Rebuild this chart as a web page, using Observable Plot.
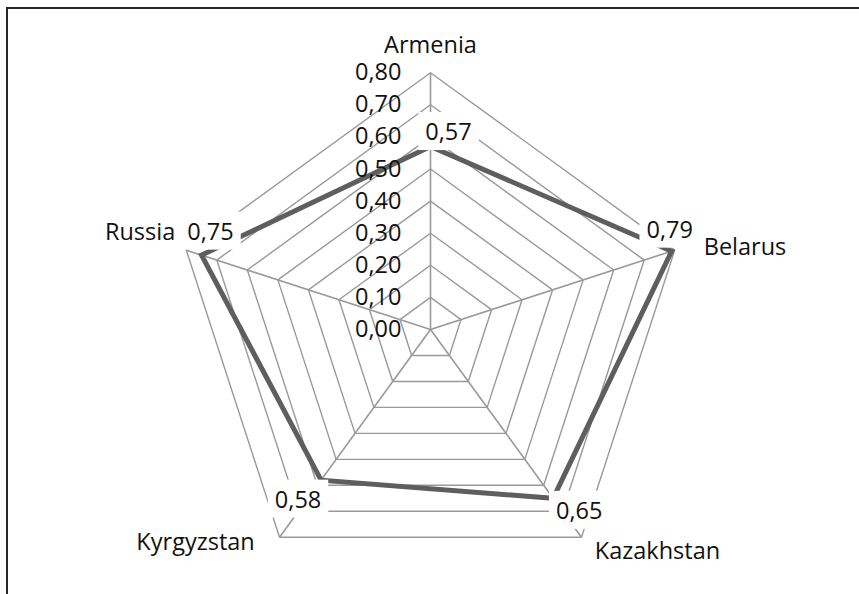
<!DOCTYPE html>
<html>
<head>
<meta charset="utf-8">
<script src="https://cdn.jsdelivr.net/npm/d3@7"></script>
<script src="https://cdn.jsdelivr.net/npm/@observablehq/plot@0.6"></script>
<style>
  html, body { margin: 0; padding: 0; background: #fff; }
  #wrap { position: relative; width: 859px; height: 594px; overflow: hidden; }
  #border { position: absolute; left: 6px; top: 7px; width: 900px; height: 700px;
            border-top: 2px solid #262626; border-left: 2px solid #262626; pointer-events: none; }
  svg { display: block; }
</style>
</head>
<body>
<div id="wrap"><div id="border"></div></div>
<script>
// ---- data ----
const categories = ["Armenia", "Belarus", "Kazakhstan", "Kyrgyzstan", "Russia"];
const values = [0.57, 0.79, 0.65, 0.58, 0.75];
const valueLabels = ["0,57", "0,79", "0,65", "0,58", "0,75"];
const tickValues = [0, 0.1, 0.2, 0.3, 0.4, 0.5, 0.6, 0.7, 0.8];
const tickLabels = ["0,00", "0,10", "0,20", "0,30", "0,40", "0,50", "0,60", "0,70", "0,80"];
const maxValue = 0.8;

// ---- label placement (pixels) ----
const catOffsets = {
  Armenia:    {dx: 0,   dy: -27, anchor: "middle"},
  Belarus:    {dx: 29,  dy: -3,  anchor: "start"},
  Kazakhstan: {dx: 76,  dy: 14,  anchor: "middle"},
  Kyrgyzstan: {dx: -84, dy: 5,   anchor: "middle"},
  Russia:     {dx: -11, dy: -18, anchor: "end"}
};
const valOffsets = {
  Armenia:    {dx: 18,  dy: -14},
  Belarus:    {dx: -2,  dy: -21},
  Kazakhstan: {dx: 26,  dy: 13},
  Kyrgyzstan: {dx: -23, dy: 20},
  Russia:     {dx: 9,   dy: -23}
};

const n = categories.length;
const ang = i => i * 2 * Math.PI / n;
const px = (i, r) => r * Math.sin(ang(i));
const py = (i, r) => r * Math.cos(ang(i));

const rings = tickValues.filter(v => v > 0).flatMap(v =>
  categories.map((c, i) => ({level: v, x: px(i, v), y: py(i, v)})));
const spokes = categories.map((c, i) => ({c, x: px(i, maxValue), y: py(i, maxValue)}));
const series = categories.map((c, i) => ({c, v: values[i], label: valueLabels[i], x: px(i, values[i]), y: py(i, values[i])}));
const ticksData = tickValues.map((v, k) => ({v, label: tickLabels[k], x: 0, y: v}));

const font = "'Open Sans', sans-serif";
const fs = 23.5;

const marks = [
  Plot.line(rings, {x: "x", y: "y", z: "level", curve: "linear-closed", stroke: "#999999", strokeWidth: 1.4}),
  Plot.link(spokes, {x1: 0, y1: 0, x2: "x", y2: "y", stroke: "#999999", strokeWidth: 1.6}),
  Plot.line(series, {x: "x", y: "y", curve: "linear-closed", stroke: "#5e5e5e", strokeWidth: 5, strokeLinejoin: "miter", strokeMiterlimit: 10}),
  Plot.text(ticksData, {x: "x", y: "y", text: "label", dx: -29, textAnchor: "end", fill: "#111", fontSize: fs}),
  ...categories.map((c, i) => Plot.text([spokes[i]], {
    x: "x", y: "y", text: "c", dx: catOffsets[c].dx, dy: catOffsets[c].dy,
    textAnchor: catOffsets[c].anchor, fill: "#111", fontSize: fs
  })),
  ...categories.map((c, i) => Plot.text([series[i]], {
    x: "x", y: "y", text: "label", dx: valOffsets[c].dx, dy: valOffsets[c].dy,
    fill: "#111", fontSize: fs
  }))
];

const chart = Plot.plot({
  width: 859, height: 594,
  marginTop: 0, marginBottom: 0, marginLeft: 0, marginRight: 0,
  x: {type: "linear", domain: [0, 1], range: [430, 751], axis: null},
  y: {type: "linear", domain: [0, 1], range: [329, 8], axis: null},
  style: {fontFamily: font, background: "transparent", overflow: "visible"},
  marks
});
const wrap = document.getElementById("wrap");
wrap.insertBefore(chart, wrap.firstChild);

// white boxes behind data labels (as in the spreadsheet chart)
const svgNS = "http://www.w3.org/2000/svg";
Array.from(chart.querySelectorAll("text"))
  .filter(t => valueLabels.includes(t.textContent.trim()))
  .forEach(t => {
    const b = t.getBBox();
    const r = document.createElementNS(svgNS, "rect");
    r.setAttribute("x", b.x - 7);
    r.setAttribute("y", b.y - 3);
    r.setAttribute("width", b.width + 14);
    r.setAttribute("height", b.height + 6);
    r.setAttribute("fill", "#ffffff");
    r.setAttribute("stroke", "none");
    if (t.getAttribute("transform")) r.setAttribute("transform", t.getAttribute("transform"));
    t.parentNode.insertBefore(r, t);
  });
</script>
</body>
</html>
